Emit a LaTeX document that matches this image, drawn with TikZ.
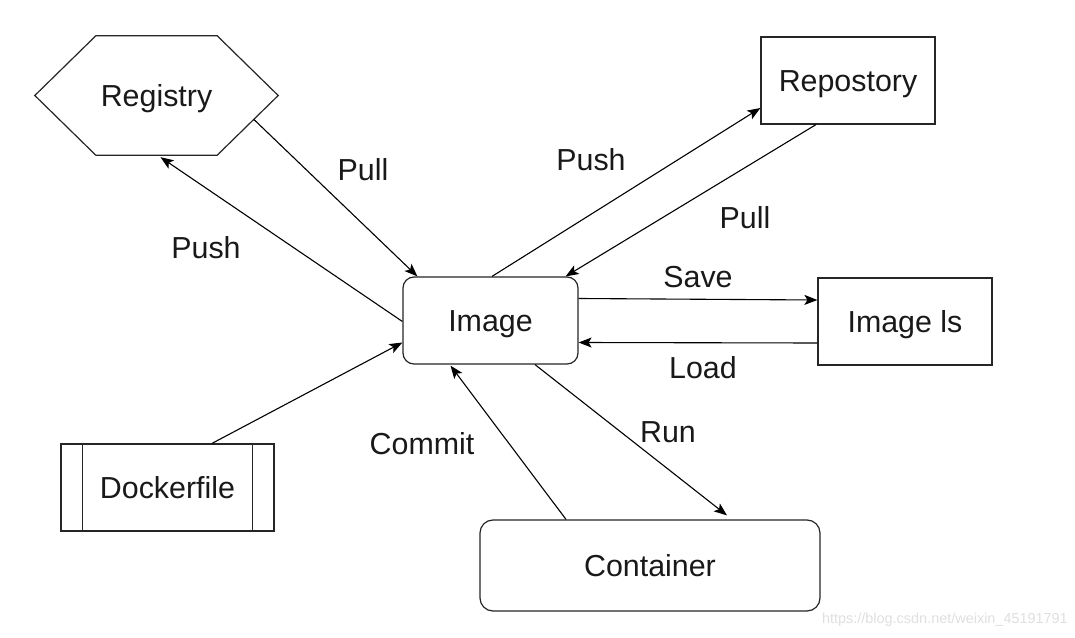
\documentclass[tikz,border=0pt]{standalone}
\usepackage{fontspec}
\setmainfont{Liberation Sans}
\usetikzlibrary{arrows.meta,calc}
\begin{document}
\begin{tikzpicture}[x=1bp,y=-1bp,
  every node/.style={font=\fontsize{30.5}{36}\selectfont, text=black!90},
  capc/.style={text height=21.8bp, text depth=0pt},
  box/.style={draw=black!85, line width=1.2bp, minimum width=#1, inner sep=0pt, capc},
  rbox/.style={box=#1, rounded corners=11bp},
  conn/.style={draw=black, line width=1.1bp, -{Stealth[length=13bp,width=10bp,inset=3bp]}},
  lbl/.style={inner sep=0pt, capc}
]
\useasboundingbox (0,0) rectangle (1075,638);
\fill[white] (0,0) rectangle (1075,638);

% nodes
\node[rbox=175bp, minimum height=87bp] (img) at (490.5,320.5) {Image};
\node[box=174bp, minimum height=87bp] (ils) at (905,321.5) {Image ls};
\node[box=174bp, minimum height=87bp] (rep) at (848,80.5) {Repostory};
\node[box=213bp, minimum height=87bp] (doc) at (167.5,487.5) {Dockerfile};
\draw[black!85, line width=1.2bp] ([xshift=22bp]doc.north west) -- ([xshift=22bp]doc.south west)
  ([xshift=-22bp]doc.north east) -- ([xshift=-22bp]doc.south east);
\node[rbox=340bp, minimum height=91bp, rounded corners=13bp] (cont) at (650,565.5) {Container};
\node[minimum width=243bp, minimum height=119bp, inner sep=0pt, capc] (reg) at (156.5,95.5) {Registry};
\draw[black!85, line width=1.2bp] (reg.west) -- ([xshift=61bp]reg.north west) -- ([xshift=-61bp]reg.north east)
  -- (reg.east) -- ([xshift=-61bp]reg.south east) -- ([xshift=61bp]reg.south west) -- cycle;
\coordinate (regout) at ($(reg.east)!0.4!([xshift=-61bp]reg.south east)$);

% connectors
\draw[conn] (regout) -- ([xshift=15bp]img.north west);
\draw[conn] ([yshift=-1bp]img.west) -- ([xshift=4bp,yshift=-2bp]reg.south);
\draw[conn] ([xshift=44.5bp]doc.north) -- ([yshift=-22bp]img.west);
\draw[conn] ([xshift=1.5bp]img.north) -- ([yshift=-27.5bp]rep.west);
\draw[conn] ([xshift=-32bp]rep.south) -- ([xshift=-13bp]img.north east);
\draw[conn] ([yshift=22bp]img.east) -- ([yshift=21.5bp]ils.west);
\draw[conn] ([yshift=-21.5bp]ils.west) -- ([yshift=-22bp]img.east);
\draw[conn] ([xshift=44.5bp]img.south) -- ([xshift=77bp,yshift=4bp]cont.north);
\draw[conn] ([xshift=-84bp]cont.north) -- ([xshift=-40bp,yshift=-1bp]img.south);

% labels
\node[lbl] (l1) at (363,170) {Pull};
\node[lbl] (l2) at (206,248) {Push};
\node[lbl] (l3) at (591,160) {Push};
\node[lbl] (l4) at (745,218) {Pull};
\node[lbl] (l5) at (698,277) {Save};
\node[lbl] (l6) at (703,368) {Load};
\node[lbl] (l7) at (668,432) {Run};
\node[lbl] (l8) at (422,444) {Commit};

% watermark
\node[inner sep=0pt, font=\fontsize{14.5}{17}\selectfont, text=black!12, anchor=east] (wm) at (1068,620) {https://blog.csdn.net/weixin\_45191791};
\end{tikzpicture}
\end{document}
